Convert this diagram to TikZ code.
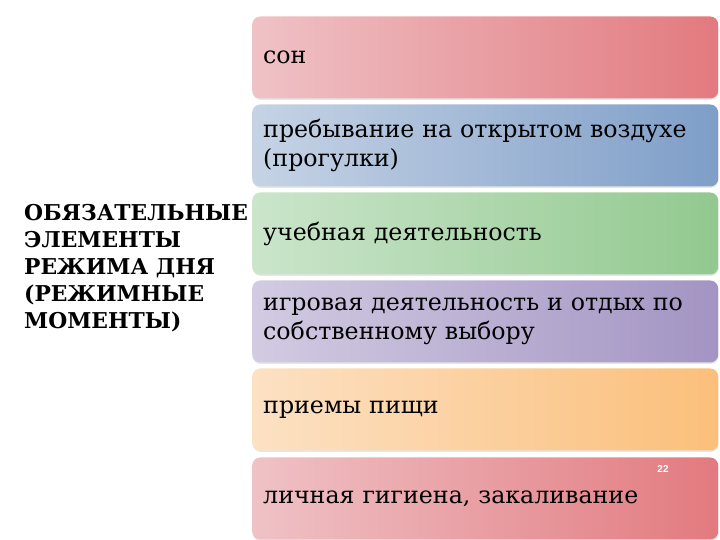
\documentclass[tikz,border=0pt]{standalone}
\usepackage{fontspec}
\setmainfont{DejaVu Serif}
\newfontfamily\numfont{Liberation Sans}
\usetikzlibrary{shadows}
\definecolor{redL}{HTML}{EFC2C6}
\definecolor{redR}{HTML}{E27A7F}
\definecolor{bluL}{HTML}{C6D3E5}
\definecolor{bluR}{HTML}{7E9EC8}
\definecolor{grnL}{HTML}{CBE5CB}
\definecolor{grnR}{HTML}{92C98F}
\definecolor{vioL}{HTML}{D2CBE2}
\definecolor{vioR}{HTML}{A394C3}
\definecolor{orgL}{HTML}{FCE1C3}
\definecolor{orgR}{HTML}{FBBF7A}
\tikzset{
  itembox/.style={draw=none, rounded corners=8pt, anchor=west,
    minimum width=466pt, minimum height=82pt, text width=444pt,
    inner xsep=11pt, align=left,
    font=\fontsize{23.7}{29}\selectfont,
    drop shadow={opacity=0.2, shadow xshift=0.5pt, shadow yshift=-1.5pt}},
  headtext/.style={anchor=west, align=left, inner sep=0pt,
    font=\fontsize{21.8}{27}\selectfont\bfseries}
}
\begin{document}
\begin{tikzpicture}[x=1pt,y=1pt]
\useasboundingbox (0,0) rectangle (720,540);
\node[itembox, left color=redL, right color=redR] (b1) at (252,482.5) {сон};
\node[itembox, left color=bluL, right color=bluR] (b2) at (252,394.5) {пребывание на открытом воздухе\\(прогулки)};
\node[itembox, left color=grnL, right color=grnR] (b3) at (252,306.5) {учебная деятельность};
\node[itembox, left color=vioL, right color=vioR] (b4) at (252,218.5) {игровая деятельность и отдых по\\собственному выбору};
\node[itembox, left color=orgL, right color=orgR] (b5) at (252,130.5) {приемы пищи};
\node[itembox, left color=redL, right color=redR] (b6) at (252,41.5) {личная гигиена, закаливание};
\node[font=\numfont\bfseries\fontsize{10}{11}\selectfont, text=white] (num) at (663,71) {22};
\node[headtext] (head) at (24,272) {ОБЯЗАТЕЛЬНЫЕ\\ЭЛЕМЕНТЫ\\РЕЖИМА ДНЯ\\(РЕЖИМНЫЕ\\МОМЕНТЫ)};
\end{tikzpicture}
\end{document}
